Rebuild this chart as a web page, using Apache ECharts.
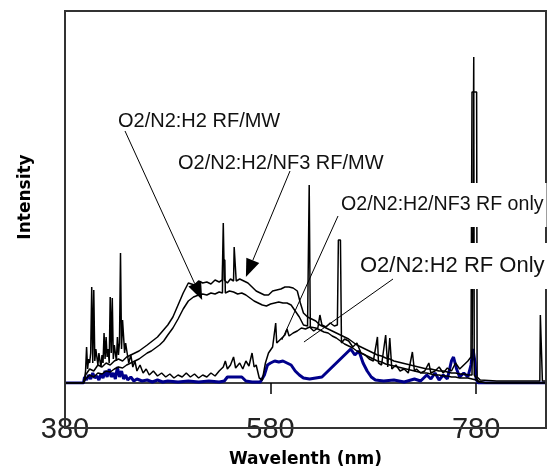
<!DOCTYPE html>
<html><head><meta charset="utf-8">
<script src="https://cdn.jsdelivr.net/npm/echarts@6/dist/echarts.min.js"></script>
<style>html,body{margin:0;padding:0;background:#fff}#c{width:554px;height:471px}</style>
</head><body><div id="c"></div>
<script>
// Wavelength axis ticks (nm)
const xTicks = [380, 580, 780];
const xMin = 380, xMax = 848;

// Series: [wavelength nm, intensity a.u.]
const h2RfOnly = [[380,0],[398,0],[399,6],[401,3],[403,8],[405,4],[407,10],[409,5],[411,7],[413,3],[415,9],[417,5],[419,12],[421,6],[423,14],[425,6],[427,10],[429,4],[431,16],[433,6],[435,12],[437,4],[439,8],[441,3],[444,6],[447,2],[450,4],[455,2],[460,3],[465,1],[470,3],[475,1],[480,2],[490,1],[500,2],[510,1],[520,2],[530,1],[535,2],[538,6],[552,6],[556,2],[562,1],[570,1],[574,8],[577,18],[580,20],[584,22],[588,21],[592,22],[596,20],[600,18],[604,12],[608,8],[612,5],[618,4],[624,5],[630,6],[634,10],[638,14],[642,18],[646,22],[650,26],[654,30],[658,34],[662,28],[666,32],[670,20],[674,12],[678,6],[682,3],[690,2],[700,3],[710,1],[720,4],[726,2],[732,8],[736,4],[740,10],[744,3],[748,8],[752,4],[756,22],[758,26],[761,14],[764,6],[768,10],[772,6],[775,18],[777,34],[779,20],[780,4],[782,0],[848,0]];

const nf3RfOnly = [[380,0],[398,0],[399,4],[400,12],[401,36],[402,14],[403,24],[404,20],[405,30],[406,96],[407,20],[408,93],[409,22],[410,34],[411,26],[412,18],[413,30],[414,22],[415,16],[416,28],[417,20],[418,50],[419,24],[420,46],[421,26],[422,34],[423,20],[424,86],[425,30],[426,85],[427,24],[428,38],[429,30],[430,22],[431,46],[432,28],[433,40],[434,130],[435,34],[436,63],[437,63],[438,30],[439,40],[440,33],[442,20],[444,28],[446,16],[448,22],[450,12],[453,18],[456,10],[459,14],[462,8],[466,12],[470,7],[474,10],[478,6],[482,9],[486,5],[490,8],[494,6],[498,10],[502,6],[506,9],[510,5],[514,8],[518,6],[522,10],[526,7],[530,12],[534,16],[536,22],[538,14],[541,18],[544,26],[546,15],[550,20],[553,14],[556,22],[559,17],[562,30],[564,16],[566,18],[569,5],[572,3],[575,20],[578,30],[582,36],[585,60],[586,40],[590,44],[594,48],[596,54],[598,47],[602,50],[606,52],[610,55],[614,54],[618,56],[622,52],[626,55],[628,68],[630,58],[634,56],[638,60],[642,57],[645,58],[646,143],[648,143],[649,40],[652,44],[656,42],[660,36],[664,40],[668,30],[672,28],[676,24],[680,22],[684,46],[685,20],[688,18],[692,48],[694,16],[696,45],[698,14],[702,18],[706,12],[710,14],[714,10],[718,31],[720,12],[722,14],[726,10],[730,12],[734,20],[736,10],[740,12],[744,16],[748,10],[752,15],[756,12],[760,20],[764,14],[768,18],[772,22],[775,26],[776,291],[780.5,291],[781,6],[784,3],[800,2],[820,2],[842,2],[842.5,68],[844,68],[844.5,2],[848,2]];

const h2RfMw = [[380,0],[398,0],[400,4],[404,8],[408,6],[412,10],[416,9],[420,12],[424,11],[428,14],[432,16],[436,15],[440,18],[444,20],[448,22],[452,24],[456,27],[460,30],[464,32],[468,35],[472,38],[476,42],[480,48],[485,55],[490,64],[495,74],[500,82],[505,86],[510,88],[514,89],[518,88],[522,90],[526,89],[530,91],[533.2,90],[533.5,123],[535.5,123],[536,90],[540,92],[544,91],[548,89],[552,90],[556,88],[560,85],[564,82],[568,80],[572,78],[576,77],[580,79],[584,80],[588,81],[592,80],[596,80],[600,78],[604,72],[608,66],[612,58],[616,57],[617.3,57],[617.6,198],[618.4,198],[618.7,56],[624,55],[628,53],[632,51],[636,50],[640,47],[644,45],[648,42],[652,39],[656,37],[660,35],[664,32],[668,30],[672,28],[676,26],[680,24],[684,22],[688,21],[692,19],[696,18],[700,17],[704,16],[708,15],[712,14],[716,13],[720,12],[724,11],[728,10],[732,10],[736,9],[740,8],[744,8],[748,7],[752,7],[756,6],[760,6],[764,5],[768,5],[772,5],[776,4],[780,3],[782,1],[790,0],[848,0]];

const nf3RfMw = [[380,0],[398,0],[400,8],[404,14],[408,12],[412,18],[416,16],[420,20],[424,18],[428,22],[432,24],[436,22],[440,26],[444,28],[448,30],[452,32],[456,35],[460,38],[465,42],[470,46],[475,52],[480,58],[485,66],[490,78],[495,90],[500,100],[506,98],[510,102],[514,100],[518,101],[522,99],[526,103],[530,101],[533,103],[534,160],[535,103],[538,100],[541,104],[544,102],[544.6,136],[546,136],[546.6,102],[550,104],[554,102],[558,100],[562,96],[566,92],[570,90],[574,88],[578,88],[582,92],[586,93],[590,94],[594,96],[598,96],[602,95],[606,92],[609,80],[612,70],[616,66],[620,64],[624,62],[628,58],[632,56],[636,54],[640,52],[644,50],[648,48],[652,46],[656,44],[660,41],[664,38],[668,36],[672,34],[676,32],[680,30],[684,28],[688,27],[692,25],[696,24],[700,22],[704,21],[708,20],[712,19],[716,18],[720,17],[724,16],[728,15],[732,14],[736,14],[740,13],[744,12],[748,12],[752,11],[756,10],[760,10],[764,9],[768,9],[772,8],[776,8],[777.2,8],[777.7,326],[778.2,8],[780,6],[782,2],[790,0],[848,0]];

// Annotations: label anchor (px) and target on the data (nm, intensity)
const annotations = [
  { text: 'O2/N2:H2 RF/MW', x: 115, y: 121, size: 20, from: [125, 131], tip: [513.5, 83], arrow: true },
  { text: 'O2/N2:H2/NF3 RF/MW', x: 175, y: 163, size: 20, from: [290, 171], tip: [556, 106], arrow: true },
  { text: 'O2/N2:H2/NF3 RF only', x: 338, y: 205, size: 19.6, from: [338, 216], tip: [591, 43], arrow: false },
  { text: 'O2/N2:H2 RF Only', x: 357, y: 266, size: 22, from: [393, 279], tip: [612.5, 41], arrow: false }
];

const chart = echarts.init(document.getElementById('c'), null, { renderer: 'canvas' });
const lineSeries = (name, data, color, width) => ({
  name, type: 'line', data, showSymbol: false, symbol: 'none', smooth: false,
  lineStyle: { color, width }, animation: false, z: 2
});
chart.setOption({
  animation: false,
  backgroundColor: '#fff',
  grid: { left: 65, right: 8, top: 11, bottom: 88, outerBoundsMode: 'none' },
  xAxis: {
    type: 'value', min: xMin, max: xMax, interval: 200,
    name: 'Wavelenth (nm)', nameLocation: 'middle', nameGap: 68,
    nameTextStyle: { fontFamily: 'DejaVu Sans', fontWeight: 'bold', fontSize: 17, color: '#000' },
    axisLine: { show: true, onZero: false, lineStyle: { color: '#000', width: 1.5 } },
    axisTick: { show: true, inside: false, length: 11, lineStyle: { color: '#000', width: 1.5 } },
    axisLabel: { margin: 32, fontSize: 29, fontFamily: 'Liberation Sans', color: '#222', showMaxLabel: false,
      formatter: v => xTicks.includes(v) ? String(v) : '' },
    splitLine: { show: false }
  },
  yAxis: {
    type: 'value', min: 0, max: 372,
    name: 'Intensity', nameLocation: 'middle', nameGap: 31, nameRotate: 90,
    nameTextStyle: { fontFamily: 'DejaVu Sans', fontWeight: 'bold', fontSize: 17, color: '#000' },
    axisLine: { show: false }, axisTick: { show: false }, axisLabel: { show: false }, splitLine: { show: false }
  },
  series: [
    lineSeries('O2/N2:H2 RF Only', h2RfOnly, '#00008b', 3),
    lineSeries('O2/N2:H2/NF3 RF only', nf3RfOnly, '#000', 1.5),
    lineSeries('O2/N2:H2 RF/MW', h2RfMw, '#000', 1.5),
    lineSeries('O2/N2:H2/NF3 RF/MW', nf3RfMw, '#000', 1.5)
  ]
});

// Frame and annotations
const gr = [];
gr.push({ type: 'rect', shape: { x: 65, y: 11, width: 481, height: 417 }, style: { fill: 'none', stroke: '#333', lineWidth: 2 }, z: 10, silent: true });
annotations.forEach(a => {
  const tip = chart.convertToPixel({ gridIndex: 0 }, a.tip);
  const dx = tip[0] - a.from[0], dy = tip[1] - a.from[1];
  const len = Math.hypot(dx, dy), ux = dx / len, uy = dy / len;
  const L = a.arrow ? 18 : 0;
  const bx = tip[0] - ux * L, by = tip[1] - uy * L;
  gr.push({ type: 'line', shape: { x1: a.from[0], y1: a.from[1], x2: bx, y2: by }, style: { stroke: '#000', lineWidth: 1 }, z: 35, silent: true });
  if (a.arrow) {
    const nx = -uy * 7, ny = ux * 7;
    gr.push({ type: 'polygon', shape: { points: [[tip[0], tip[1]], [bx + nx, by + ny], [bx - nx, by - ny]] }, style: { fill: '#000' }, z: 36, silent: true });
  }
  gr.push({ type: 'text', x: a.x, y: a.y, z: 30, silent: true,
    style: { text: a.text, fill: '#111', font: a.size + 'px "Liberation Sans"', verticalAlign: 'middle', align: 'left',
      backgroundColor: '#fff', padding: [12, 3] } });
});
chart.setOption({ graphic: gr });
</script></body></html>
